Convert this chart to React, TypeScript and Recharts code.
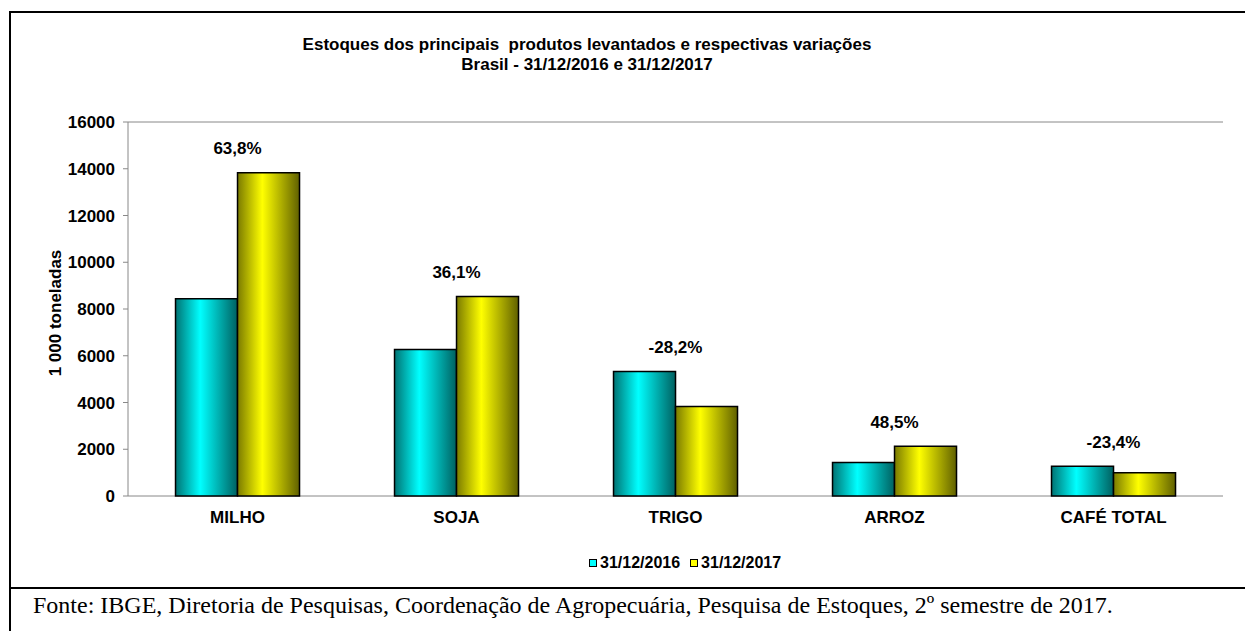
import React from 'react';
import {
  BarChart,
  Bar,
  XAxis,
  YAxis,
  CartesianGrid,
  Legend,
  LabelList,
} from 'recharts';

const categories = ['MILHO', 'SOJA', 'TRIGO', 'ARROZ', 'CAFÉ TOTAL'];
const stocks2016 = [8440, 6270, 5330, 1430, 1270];
const stocks2017 = [13830, 8530, 3830, 2130, 990];
const variationLabels = ['63,8%', '36,1%', '-28,2%', '48,5%', '-23,4%'];
const seriesNames = ['31/12/2016', '31/12/2017'];
const yTicks = [0, 2000, 4000, 6000, 8000, 10000, 12000, 14000, 16000];
const edgeTicks = [0, 1, 2, 3, 4, 5];

const data = categories.map((c, i) => ({
  name: c,
  a: stocks2016[i],
  b: stocks2017[i],
}));

const FONT = '"Liberation Sans", Arial, sans-serif';
const GRAY = '#888888';

const renderVariation = (props: any) => {
  const { x, y, width, height, value, index } = props;
  if (!value) return null;
  const maxVal = Math.max(stocks2016[index], stocks2017[index]);
  const pxPerUnit = height / value;
  const bottom = y + height;
  const maxTop = bottom - maxVal * pxPerUnit;
  const cx = x + width;
  const cy = maxTop - 24;
  return (
    <g>
      <rect x={cx - 38} y={cy - 11} width={76} height={22} fill="#ffffff" />
      <text
        x={cx}
        y={cy}
        textAnchor="middle"
        dominantBaseline="central"
        fontFamily={FONT}
        fontWeight="bold"
        fontSize={17}
        fill="#000"
      >
        {variationLabels[index]}
      </text>
    </g>
  );
};

const renderYLabel = (props: any) => {
  const vb = props.viewBox;
  const cx = vb.x + 25;
  const cy = vb.y + vb.height / 2 + 4;
  return (
    <text
      x={cx}
      y={cy}
      transform={`rotate(-90, ${cx}, ${cy})`}
      textAnchor="middle"
      dominantBaseline="central"
      fontFamily={FONT}
      fontWeight="bold"
      fontSize={17}
      fill="#000"
    >
      1 000 toneladas
    </text>
  );
};

const legendColors = ['#00ffff', '#ffff00'];

const renderLegend = () => (
  <div
    style={{
      display: 'flex',
      alignItems: 'center',
      height: 20,
      fontFamily: FONT,
      fontWeight: 'bold',
      fontSize: 16,
      color: '#000',
      whiteSpace: 'nowrap',
    }}
  >
    {seriesNames.map((n, i) => (
      <span key={n} style={{ display: 'flex', alignItems: 'center', marginRight: i === 0 ? 10 : 0 }}>
        <span
          style={{
            display: 'inline-block',
            width: 6,
            height: 6,
            border: '1px solid #000',
            background: legendColors[i],
            marginRight: 3,
          }}
        />
        {n}
      </span>
    ))}
  </div>
);

export default function App() {
  return (
    <div style={{ position: 'absolute', left: 0, top: 0, width: 1245, height: 631, background: '#fff', overflow: 'hidden' }}>
      <div
        style={{
          position: 'absolute',
          left: 9,
          top: 11,
          width: 1300,
          height: 700,
          borderLeft: '2px solid #000',
          borderTop: '2px solid #000',
        }}
      />
      <div
        style={{
          position: 'absolute',
          left: 0,
          top: 35,
          width: 1174,
          textAlign: 'center',
          fontFamily: FONT,
          fontWeight: 'bold',
          fontSize: 17,
          lineHeight: '20px',
          color: '#000',
          whiteSpace: 'pre',
        }}
      >
        {'Estoques dos principais  produtos levantados e respectivas variações\nBrasil - 31/12/2016 e 31/12/2017'}
      </div>
      <div style={{ position: 'absolute', left: 0, top: 0 }}>
        <BarChart
          width={1245}
          height={588}
          data={data}
          margin={{ top: 122, right: 22, bottom: 15, left: 30 }}
          barCategoryGap="21.7%"
          barGap={0}
        >
          <defs>
            <linearGradient id="gCyan" x1="0" y1="0" x2="1" y2="0">
              <stop offset="0%" stopColor="#007373" />
              <stop offset="40%" stopColor="#00ffff" />
              <stop offset="100%" stopColor="#006060" />
            </linearGradient>
            <linearGradient id="gYellow" x1="0" y1="0" x2="1" y2="0">
              <stop offset="0%" stopColor="#7a7a00" />
              <stop offset="40%" stopColor="#ffff00" />
              <stop offset="100%" stopColor="#606000" />
            </linearGradient>
          </defs>
          <CartesianGrid vertical={false} stroke={GRAY} strokeWidth={1} />
          <XAxis
            xAxisId="edges"
            type="number"
            domain={[0, 5]}
            ticks={edgeTicks}
            height={0}
            tick={false}
            tickSize={5}
            axisLine={{ stroke: GRAY }}
            tickLine={{ stroke: GRAY }}
            allowDataOverflow
          />
          <XAxis
            xAxisId="cat"
            dataKey="name"
            height={57}
            axisLine={false}
            tickLine={false}
            tickSize={0}
            tickMargin={15}
            interval={0}
            tick={{ fontFamily: FONT, fontWeight: 'bold', fontSize: 17, fill: '#000' }}
          />
          <YAxis
            yAxisId="left"
            width={98}
            domain={[0, 16000]}
            ticks={yTicks}
            interval={0}
            tickSize={5}
            tickMargin={8}
            axisLine={{ stroke: GRAY }}
            tickLine={{ stroke: GRAY }}
            tick={{ fontFamily: FONT, fontWeight: 'bold', fontSize: 17, fill: '#000' }}
            label={{ content: renderYLabel }}
          />
          <YAxis
            yAxisId="right"
            orientation="right"
            width={0}
            domain={[0, 1]}
            tick={false}
            tickLine={false}
            axisLine={{ stroke: GRAY }}
          />
          <Legend
            verticalAlign="bottom"
            wrapperStyle={{ left: 589, bottom: 15, width: 'auto' }}
            content={renderLegend}
          />
          <Bar
            dataKey="a"
            name={seriesNames[0]}
            xAxisId="cat"
            yAxisId="left"
            fill="url(#gCyan)"
            stroke="#000"
            strokeWidth={1.5}
            isAnimationActive={false}
          >
            <LabelList dataKey="a" content={renderVariation} />
          </Bar>
          <Bar
            dataKey="b"
            name={seriesNames[1]}
            xAxisId="cat"
            yAxisId="left"
            fill="url(#gYellow)"
            stroke="#000"
            strokeWidth={1.5}
            isAnimationActive={false}
          />
        </BarChart>
      </div>
      <div
        style={{
          position: 'absolute',
          left: 10,
          top: 587,
          width: 1235,
          height: 2,
          background: '#000',
        }}
      />
      <div
        style={{
          position: 'absolute',
          left: 33,
          top: 591,
          fontFamily: '"Liberation Serif", "Times New Roman", serif',
          fontSize: 24,
          lineHeight: '28px',
          color: '#000',
          whiteSpace: 'nowrap',
        }}
      >
        Fonte: IBGE, Diretoria de Pesquisas, Coordenação de Agropecuária, Pesquisa de Estoques, 2º semestre de 2017.
      </div>
    </div>
  );
}
